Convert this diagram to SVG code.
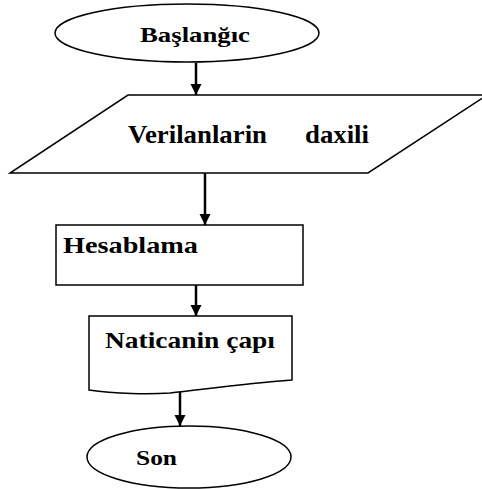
<svg xmlns="http://www.w3.org/2000/svg" width="482" height="489" viewBox="0 0 482 489">
  <style>
    .shape { fill: #ffffff; stroke: #000000; stroke-width: 1.5; }
    .label { font-family: "Liberation Serif", "Times New Roman", serif; font-weight: bold; fill: #000000; }
    .conn { stroke: #000000; stroke-width: 2.5; fill: none; marker-end: url(#arrow); }
  </style>
  <defs>
    <marker id="arrow" viewBox="0 0 10 10" refX="10" refY="5" markerWidth="4.6" markerHeight="4.6" markerUnits="strokeWidth" orient="auto">
      <path d="M0,0 L10,5 L0,10 Z" fill="#000000"/>
    </marker>
  </defs>
  <rect width="482" height="489" fill="#ffffff"/>

  <g id="connectors">
    <line class="conn" x1="196" y1="63" x2="196" y2="95"/>
    <line class="conn" x1="205" y1="173" x2="205" y2="225"/>
    <line class="conn" x1="196" y1="285" x2="196" y2="316"/>
    <line class="conn" x1="180" y1="392" x2="180" y2="426"/>
  </g>

  <g id="start">
    <ellipse class="shape" cx="187" cy="33" rx="132" ry="29"/>
    <text class="label" x="140" y="42" font-size="22" textLength="110" lengthAdjust="spacingAndGlyphs">Başlanğıc</text>
  </g>

  <g id="input">
    <polygon class="shape" points="128,95 487,95 368,173 10,173"/>
    <text class="label" x="128" y="143" font-size="25" textLength="139" lengthAdjust="spacingAndGlyphs">Verilanlarin</text>
    <text class="label" x="305" y="143" font-size="25" textLength="64" lengthAdjust="spacingAndGlyphs">daxili</text>
  </g>

  <g id="process">
    <rect class="shape" x="56" y="225" width="247" height="60"/>
    <text class="label" x="63" y="253" font-size="24" textLength="135" lengthAdjust="spacingAndGlyphs">Hesablama</text>
  </g>

  <g id="output">
    <path class="shape" d="M89,316 L292,316 L292,380 C240,384 200,390 170,393 C150,394.5 115,394 89,390 Z"/>
    <text class="label" x="105" y="348" font-size="24" textLength="170" lengthAdjust="spacingAndGlyphs">Naticanin çapı</text>
  </g>

  <g id="end">
    <ellipse class="shape" cx="189" cy="457" rx="102" ry="31"/>
    <text class="label" x="136" y="465" font-size="22" textLength="41" lengthAdjust="spacingAndGlyphs">Son</text>
  </g>
</svg>
